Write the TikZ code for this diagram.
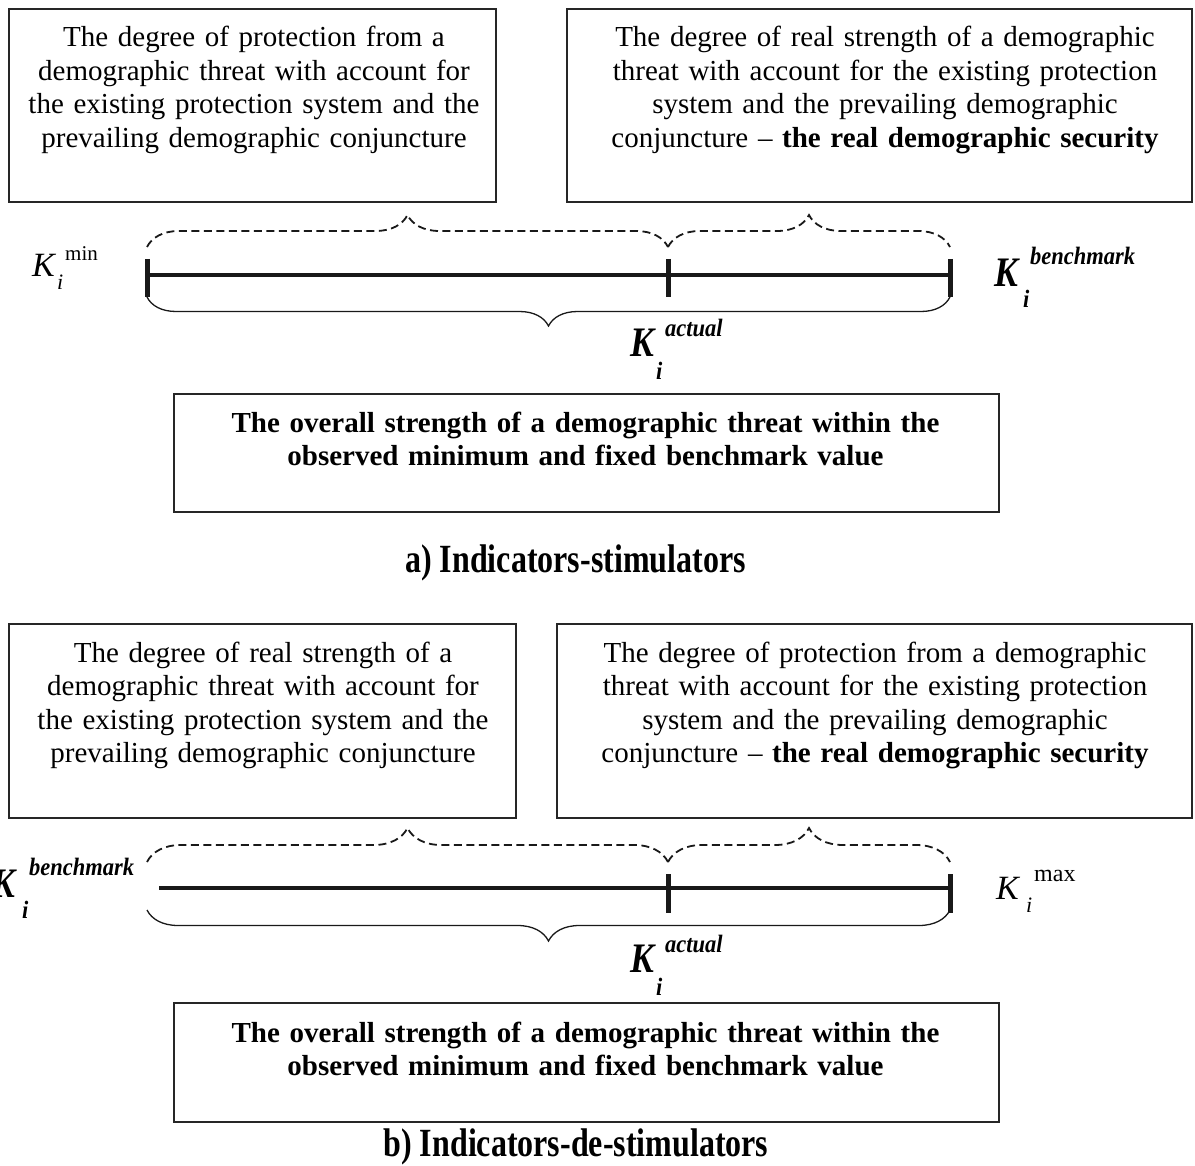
\documentclass[tikz,border=0pt]{standalone}
\usepackage{fontspec}
\setmainfont{Liberation Serif}
\newfontfamily\kfont[FakeStretch=0.85]{Liberation Serif}
\newfontfamily\supfont[FakeStretch=0.9]{Liberation Serif}
\newfontfamily\capfont[FakeStretch=0.8]{Liberation Serif}
\usetikzlibrary{decorations.pathreplacing}
\begin{document}
\begin{tikzpicture}[x=1pt,y=-1pt,
  box/.style={draw=black!85, line width=1.6pt, inner sep=0pt, outer sep=0pt},
  txt/.style={font=\fontsize{29}{33.5}\selectfont, align=center, text width=660pt, inner sep=0pt, anchor=base},
  btxt/.style={txt, text width=800pt, font=\fontsize{29}{33}\selectfont\bfseries},
  captxt/.style={font=\capfont\bfseries\fontsize{40}{44}\selectfont, inner sep=0pt, anchor=base},
  kreg/.style={font=\fontsize{34}{36}\selectfont\itshape, inner sep=0pt, anchor=base west},
  supreg/.style={font=\fontsize{#1}{26}\selectfont, inner sep=0pt, anchor=base west},
  subreg/.style={font=\fontsize{22}{24}\selectfont\itshape, inner sep=0pt, anchor=base west},
  kbi/.style={font=\kfont\bfseries\itshape\fontsize{42}{44}\selectfont, inner sep=0pt, anchor=base west},
  supbi/.style={font=\supfont\bfseries\itshape\fontsize{25}{27}\selectfont, inner sep=0pt, anchor=base west},
  scaleline/.style={line width=4pt, black!90},
  tickline/.style={line width=5pt, black!90},
  dbrace/.style={decorate, decoration={brace, amplitude=#1}, dash pattern=on 8pt off 4.5pt, line width=1.8pt, black!90},
  sbrace/.style={decorate, decoration={brace, amplitude=#1}, line width=1.3pt, black!90},
]
\useasboundingbox (0,0) rectangle (1195,1166);

% ---------------- part a ----------------
\node[box, minimum width=487pt, minimum height=193pt] (a1) at (252.5,105.5) {};
\node[box, minimum width=625pt, minimum height=193pt] (a2) at (879.5,105.5) {};
\node[box, minimum width=825pt, minimum height=118pt] (a3) at (586.5,453) {};

\node[txt] (a1t) at (254,47) {The degree of protection from a\\demographic threat with account for\\the existing protection system and the\\prevailing demographic conjuncture};
\node[txt] (a2t) at (885,47) {The degree of real strength of a demographic\\threat with account for the existing protection\\system and the prevailing demographic\\conjuncture -- \textbf{the real demographic security}};
\node[btxt] (a3t) at (585.5,432) {The overall strength of a demographic threat within the\\observed minimum and fixed benchmark value};
\node[captxt] (acap) at (575.5,572) {a) Indicators-stimulators};

\coordinate (aL) at (147,275);
\coordinate (aM) at (668,275);
\coordinate (aR) at (950,275);
\draw[scaleline] (aL) -- (aR);
\draw[tickline] (147,259) -- (147,297);
\draw[tickline] (668,259) -- (668,297);
\draw[tickline] (950,259) -- (950,297);
\draw[dbrace=32pt] (147,247) -- (668,247);
\draw[dbrace=32pt] (668,247) -- (950,247);
\draw[sbrace=29pt] (950,297) -- (147,297);

\node[kreg] (akmin) at (32,277) {K};
\node[supreg=21] (akminsup) at (65,261) {min};
\node[subreg] (akminsub) at (57,290) {i};

\node[kbi] (akb) at (994,287) {K};
\node[supbi] (akbsup) at (1030,265) {benchmark};
\node[supbi] (akbsub) at (1023,308) {i};

\node[kbi] (aka) at (630,357) {K};
\node[supbi] (akasup) at (665,337) {actual};
\node[supbi] (akasub) at (656,380) {i};

% ---------------- part b ----------------
\node[box, minimum width=507pt, minimum height=194pt] (b1) at (262.5,721) {};
\node[box, minimum width=635pt, minimum height=194pt] (b2) at (874.5,721) {};
\node[box, minimum width=825pt, minimum height=119pt] (b3) at (586.5,1062.5) {};

\node[txt] (b1t) at (263,662) {The degree of real strength of a\\demographic threat with account for\\the existing protection system and the\\prevailing demographic conjuncture};
\node[txt] (b2t) at (875,662) {The degree of protection from a demographic\\threat with account for the existing protection\\system and the prevailing demographic\\conjuncture -- \textbf{the real demographic security}};
\node[btxt] (b3t) at (585.5,1042) {The overall strength of a demographic threat within the\\observed minimum and fixed benchmark value};
\node[captxt] (bcap) at (576,1156) {b) Indicators-de-stimulators};

\coordinate (bL) at (159,888);
\coordinate (bM) at (668,888);
\coordinate (bR) at (950,888);
\draw[scaleline] (bL) -- (bR);
\draw[tickline] (668,874) -- (668,913);
\draw[tickline] (950,874) -- (950,913);
\draw[dbrace=34pt] (147,862) -- (668,862);
\draw[dbrace=34pt] (668,862) -- (950,862);
\draw[sbrace=31pt] (950,910) -- (147,910);

\node[kbi] (bkb) at (-9,897) {K};
\node[supbi] (bkbsup) at (29,875) {benchmark};
\node[supbi] (bkbsub) at (22,918) {i};

\node[kreg] (bkmax) at (996,899) {K};
\node[supreg=24] (bkmaxsup) at (1034,881) {max};
\node[subreg] (bkmaxsub) at (1026,912) {i};

\node[kbi] (bka) at (630,972) {K};
\node[supbi] (bkasup) at (665,952) {actual};
\node[supbi] (bkasub) at (656,995) {i};
\end{tikzpicture}
\end{document}
